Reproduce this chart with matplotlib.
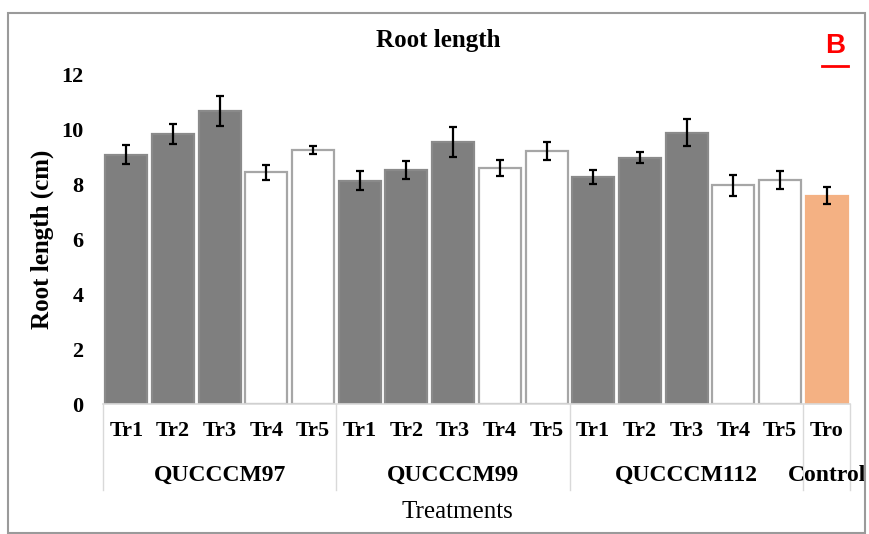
import numpy as np
import matplotlib.pyplot as plt
import matplotlib.transforms as mtransforms
from matplotlib.patches import Rectangle

# ============================
#   Datos
# ============================
etiquetas = ["Tr1", "Tr2", "Tr3", "Tr4", "Tr5",
             "Tr1", "Tr2", "Tr3", "Tr4", "Tr5",
             "Tr1", "Tr2", "Tr3", "Tr4", "Tr5", "Tro"]
grupos = ["QUCCCM97", "QUCCCM99", "QUCCCM112", "Control"]
tam_grupos = [5, 5, 5, 1]
longitud = [9.10, 9.85, 10.70, 8.45, 9.27,
            8.15, 8.55, 9.55, 8.60, 9.23,
            8.27, 8.98, 9.90, 7.97, 8.18, 7.60]
error = [0.35, 0.35, 0.55, 0.27, 0.15,
         0.35, 0.33, 0.55, 0.30, 0.33,
         0.25, 0.20, 0.50, 0.37, 0.33, 0.32]
tipo = ["g", "g", "g", "w", "w"] * 3 + ["c"]

relleno = {"g": "#7f7f7f", "w": "#ffffff", "c": "#f4b183"}
borde = {"g": "#8a8a8a", "w": "#a6a6a6", "c": "#f4b183"}

serif = "Liberation Serif"

# ============================
#   Figura
# ============================
fig = plt.figure(figsize=(8.7, 5.34), dpi=100)
ax = fig.add_axes([103 / 870, 1 - 404 / 534, (850 - 103) / 870, (404 - 75) / 534])

x = np.arange(len(longitud))
ax.bar(x, longitud, width=0.9,
       color=[relleno[t] for t in tipo],
       edgecolor=[borde[t] for t in tipo], linewidth=1.6, zorder=2)
ax.errorbar(x, longitud, yerr=error, fmt="none", ecolor="black",
            elinewidth=1.6, capsize=3, capthick=1.6, zorder=3)

ax.set_xlim(-0.5, len(longitud) - 0.5)
ax.set_ylim(0, 12)
ax.set_yticks(np.arange(0, 13, 2))
ax.set_yticklabels([str(v) for v in range(0, 13, 2)],
                   fontfamily=serif, fontweight="bold", fontsize=16)
ax.set_xticks(x)
ax.set_xticklabels(etiquetas, fontfamily=serif, fontweight="bold", fontsize=16)
ax.tick_params(axis="y", length=0, pad=14)
ax.tick_params(axis="x", length=0, pad=12)

for s in ["top", "right", "left"]:
    ax.spines[s].set_visible(False)
ax.spines["bottom"].set_color("#d9d9d9")
ax.spines["bottom"].set_linewidth(1.2)

# separadores de grupos y etiquetas de grupo
trans = mtransforms.blended_transform_factory(ax.transData, ax.transAxes)
inicio = -0.5
for g, n in zip(grupos, tam_grupos):
    ax.plot([inicio, inicio], [0, -0.26], transform=trans, color="#d9d9d9",
            lw=1.0, clip_on=False)
    ax.text(inicio + n / 2, -0.218, g, transform=trans, ha="center", va="center",
            fontfamily=serif, fontweight="bold", fontsize=17)
    inicio += n
ax.plot([inicio, inicio], [0, -0.26], transform=trans, color="#d9d9d9",
        lw=1.0, clip_on=False)

ax.set_ylabel("Root length (cm)", fontfamily=serif, fontweight="bold",
              fontsize=18, labelpad=5)

# titulos
fig.text(438 / 870, 1 - 40 / 534, "Root length", ha="center", va="center",
         fontfamily=serif, fontweight="bold", fontsize=18)
fig.text(457 / 870, 1 - 512 / 534, "Treatments", ha="center", va="center",
         fontfamily=serif, fontsize=18)
fig.text(835 / 870, 1 - 46 / 534, "B", ha="center", va="center",
         fontfamily="Liberation Sans", fontweight="bold", fontsize=20,
         color="#ff0000")
fig.add_artist(plt.Line2D([822 / 870, 848 / 870], [1 - 66 / 534, 1 - 66 / 534],
                          color="#ff0000", lw=2, transform=fig.transFigure))

# marco exterior
fig.add_artist(Rectangle((8 / 870, 1 / 534), (865 - 8) / 870, (533 - 13) / 534,
                         transform=fig.transFigure, fill=False,
                         edgecolor="#9a9a9a", lw=1.5))

fig.savefig("out.png", dpi=100)
